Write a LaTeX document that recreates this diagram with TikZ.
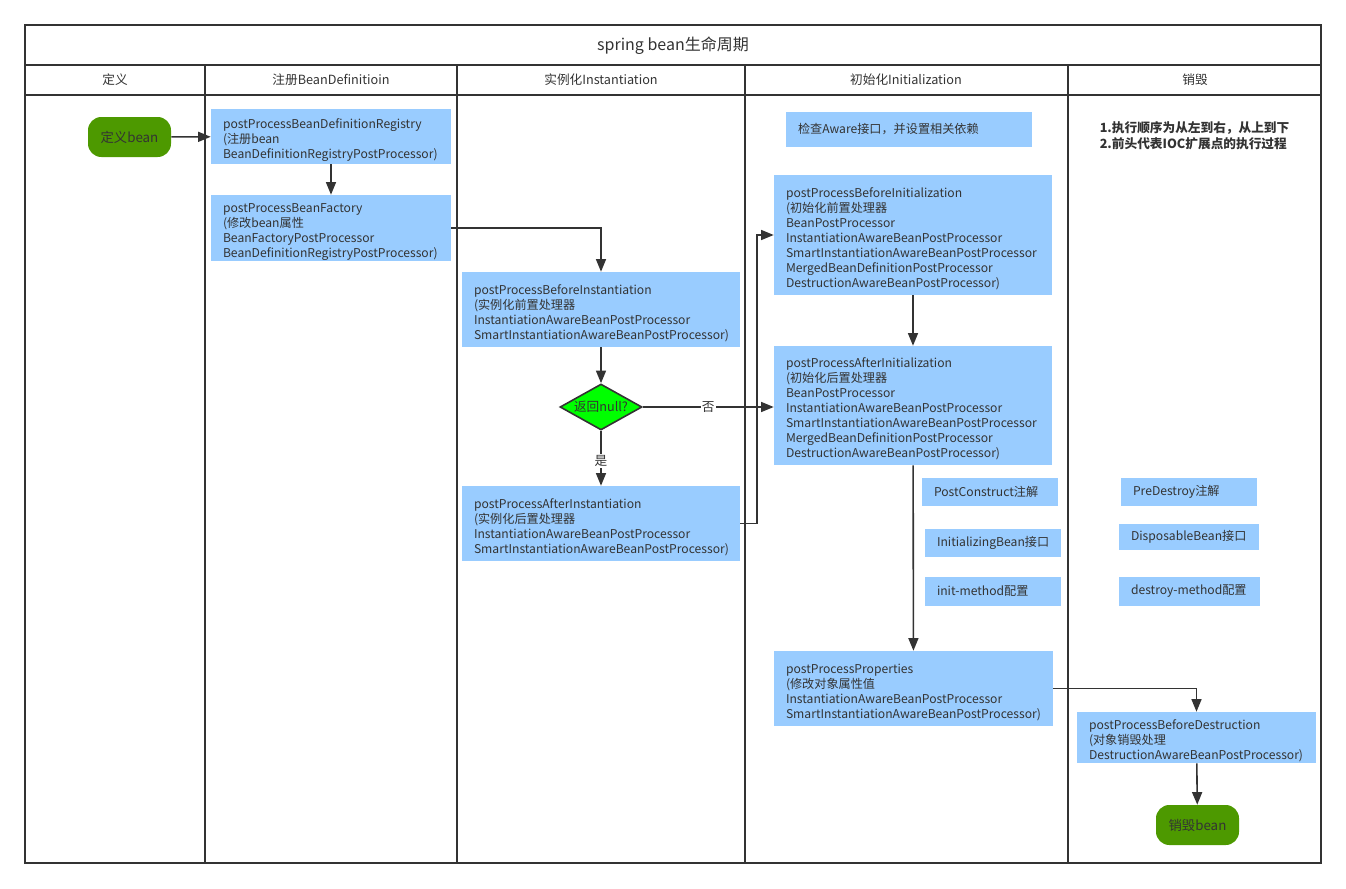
\documentclass[tikz,border=0pt]{standalone}
\usepackage{fontspec}
\setmainfont{Noto Sans CJK SC}
\usetikzlibrary{positioning,shapes.geometric,arrows.meta}
\definecolor{boxblue}{HTML}{99CCFF}
\definecolor{pillgreen}{HTML}{4D9900}
\definecolor{diagreen}{HTML}{00FF00}
\definecolor{linegray}{HTML}{333333}

\begin{document}
\begin{tikzpicture}[x=0.75pt,y=-0.75pt,
    frame/.style={draw=linegray, line width=1.5pt},
    lanehead/.style={text=linegray, font=\fontsize{9.5}{11}\selectfont},
    hook/.style={fill=boxblue, text=linegray, align=left, inner xsep=9pt, inner ysep=0pt,
      font=\fontsize{9.1}{11.25}\selectfont},
    multi/.style={execute at begin node={\rule{0pt}{13pt}}},
    pill/.style={fill=pillgreen, rounded corners=10pt, minimum width=62.25pt, minimum height=30pt,
      text=linegray, font=\fontsize{10}{11}\selectfont},
    flow/.style={draw=linegray, line width=1.2pt, -{Triangle[length=9.5pt,width=7.5pt]}},
    tag/.style={fill=white, inner sep=1pt, text=linegray, font=\fontsize{9.5}{11}\selectfont}]
  \useasboundingbox (0,0) rectangle (1346,889);

  % lanes
  \draw[frame] (25,25) rectangle (1321,863);
  \draw[frame] (25,65) -- (1321,65);
  \draw[frame] (25,95) -- (1321,95);
  \foreach \x in {205,457,745,1068}
    \draw[frame] (\x,65) -- (\x,863);

  \node[text=linegray, font=\fontsize{12}{14}\selectfont] (title) at (673,46) {spring bean生命周期};
  \node[lanehead] (hDef) at (115,80) {定义};
  \node[lanehead] (hReg) at (331,80) {注册BeanDefinitioin};
  \node[lanehead] (hInst) at (601,80) {实例化Instantiation};
  \node[lanehead] (hInit) at (906,80) {初始化Initialization};
  \node[lanehead] (hDes) at (1195,80) {销毁};

  % define / register
  \node[pill] (defBean) at (129.5,137) {定义bean};
  \node[hook, multi, text width=162pt, minimum height=41.25pt] (regPP) at (331,136.5)
    {postProcessBeanDefinitionRegistry\\(注册bean\\BeanDefinitionRegistryPostProcessor)};
  \node[hook, multi, text width=162pt, minimum height=49.5pt] (factPP) at (331,228)
    {postProcessBeanFactory\\(修改bean属性\\BeanFactoryPostProcessor\\BeanDefinitionRegistryPostProcessor)};

  % instantiation
  \node[hook, multi, text width=190.5pt, minimum height=56.25pt] (beforeInst) at (601,309.5)
    {postProcessBeforeInstantiation\\(实例化前置处理器\\InstantiationAwareBeanPostProcessor\\SmartInstantiationAwareBeanPostProcessor)};
  \node[diamond, draw=linegray, line width=1.2pt, fill=diagreen, inner sep=0pt,
    minimum width=61.5pt, minimum height=34.5pt, text=linegray, font=\fontsize{9.5}{11}\selectfont]
    (retNull) at (601,407) {\makebox[0pt]{返回null?}};
  \node[hook, multi, text width=190.5pt, minimum height=56.25pt] (afterInst) at (601,523.5)
    {postProcessAfterInstantiation\\(实例化后置处理器\\InstantiationAwareBeanPostProcessor\\SmartInstantiationAwareBeanPostProcessor)};

  % initialization
  \node[hook, text width=166.5pt, minimum height=26.25pt] (aware) at (909,129.5)
    {检查Aware接口，并设置相关依赖};
  \node[hook, multi, text width=190.5pt, minimum height=90pt] (beforeInit) at (913,235)
    {postProcessBeforeInitialization\\(初始化前置处理器\\BeanPostProcessor\\InstantiationAwareBeanPostProcessor\\SmartInstantiationAwareBeanPostProcessor\\MergedBeanDefinitionPostProcessor\\DestructionAwareBeanPostProcessor)};
  \node[hook, multi, text width=190.5pt, minimum height=89.25pt] (afterInit) at (913,405.5)
    {postProcessAfterInitialization\\(初始化后置处理器\\BeanPostProcessor\\InstantiationAwareBeanPostProcessor\\SmartInstantiationAwareBeanPostProcessor\\MergedBeanDefinitionPostProcessor\\DestructionAwareBeanPostProcessor)};
  \node[hook, text width=84pt, minimum height=21pt] (postCon) at (990,492) {PostConstruct注解};
  \node[hook, text width=84pt, minimum height=21pt] (initBean) at (993,543) {InitializingBean接口};
  \node[hook, text width=84pt, minimum height=21.75pt] (initMeth) at (993,591.5) {init-method配置};
  \node[hook, multi, text width=191.25pt, minimum height=56.25pt] (props) at (913.5,688.5)
    {postProcessProperties\\(修改对象属性值\\InstantiationAwareBeanPostProcessor\\SmartInstantiationAwareBeanPostProcessor)};

  % destruction
  \node[align=left, text=linegray, font=\bfseries\fontsize{9.5}{12}\selectfont] (notes) at (1194.5,136)
    {1.执行顺序为从左到右，从上到下\\2.前头代表IOC扩展点的执行过程};
  \node[hook, text width=84pt, minimum height=21pt] (preDes) at (1189,492) {PreDestroy注解};
  \node[hook, text width=87pt, minimum height=19.5pt] (dispBean) at (1189,537) {DisposableBean接口};
  \node[hook, text width=87.75pt, minimum height=21.75pt] (desMeth) at (1189.5,591.5) {destroy-method配置};
  \node[hook, multi, text width=161.25pt, minimum height=38.25pt] (beforeDes) at (1196.5,737.5)
    {postProcessBeforeDestruction\\(对象销毁处理\\DestructionAwareBeanPostProcessor)};
  \node[pill] (desBean) at (1197.5,825) {销毁bean};

  % flow
  \draw[flow] (defBean) -- (regPP);
  \draw[flow] (regPP) -- (factPP);
  \draw[flow] (factPP.east) -| (beforeInst.north);
  \draw[flow] (beforeInst) -- (retNull);
  \draw[flow] (retNull.east) -- node[tag] {否} (retNull.east -| afterInit.west);
  \draw[flow] (retNull) -- node[tag, pos=0.55] {是} (afterInst);
  \draw[flow] (afterInst.east) -- ++(17,0) |- (beforeInit.west);
  \draw[flow] (beforeInit) -- (afterInit);
  \draw[flow] (afterInit) -- (props);
  \draw[flow] (props.east) -| (beforeDes.north);
  \draw[flow] (beforeDes) -- (desBean);
\end{tikzpicture}
\end{document}
